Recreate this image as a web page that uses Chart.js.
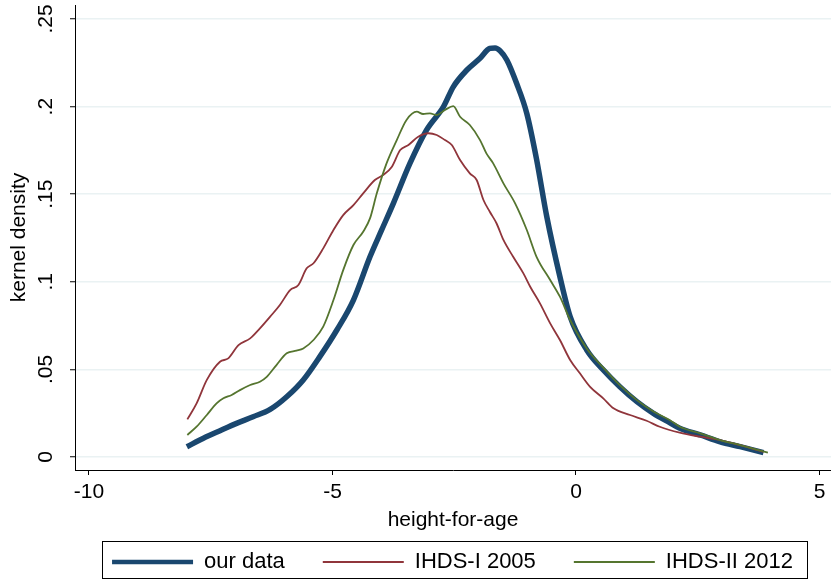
<!DOCTYPE html>
<html>
<head>
    <meta charset="utf-8">
    <title>kernel density</title>
    <script src="https://cdn.jsdelivr.net/npm/chart.js@4.4.6/dist/chart.umd.min.js"></script>
    <style>
        body { margin: 0; background: #fff; }
        #wrap { width: 831px; height: 581px; }
    </style>
</head>
<body>
    <div id="wrap"><canvas id="myChart" width="831" height="581"></canvas></div>
    <script>
        // values
        const ourX = [-7.99, -7.65, -7.31, -6.97, -6.63, -6.28, -5.94, -5.60, -5.26, -4.91, -4.57, -4.23, -3.99, -3.75, -3.41, -3.07, -2.72, -2.52, -2.24, -1.97, -1.77, -1.66, -1.56, -1.42, -1.22, -1.01, -0.81, -0.60, -0.33, -0.12, 0.22, 0.56, 0.90, 1.25, 1.59, 1.93, 2.13, 2.55, 2.96, 3.37, 3.85]
        const ourY = [0.0059, 0.0107, 0.0150, 0.0192, 0.0230, 0.0272, 0.0344, 0.0440, 0.0573, 0.0725, 0.0896, 0.1143, 0.1296, 0.1448, 0.1676, 0.1866, 0.2000, 0.2113, 0.2209, 0.2276, 0.2332, 0.2335, 0.2319, 0.2266, 0.2133, 0.1961, 0.1700, 0.1372, 0.1029, 0.0801, 0.0611, 0.0497, 0.0401, 0.0316, 0.0249, 0.0195, 0.0164, 0.0126, 0.0087, 0.0059, 0.0025]

        const ihds1X = [-7.98, -7.79, -7.58, -7.31, -7.14, -6.93, -6.69, -6.49, -6.28, -6.08, -5.87, -5.70, -5.53, -5.39, -5.19, -4.98, -4.78, -4.57, -4.37, -4.13, -3.96, -3.78, -3.61, -3.44, -3.24, -3.03, -2.86, -2.69, -2.55, -2.38, -2.18, -2.04, -1.90, -1.77, -1.63, -1.49, -1.29, -1.08, -0.94, -0.74, -0.53, -0.33, -0.12, 0.08, 0.29, 0.56, 0.77, 1.11, 1.45, 1.72, 2.13, 2.55, 2.96, 3.37, 3.85]
        const ihds1Y = [0.0215, 0.0306, 0.0440, 0.0544, 0.0563, 0.0639, 0.0677, 0.0734, 0.0801, 0.0868, 0.0953, 0.0982, 0.1077, 0.1106, 0.1191, 0.1296, 0.1381, 0.1438, 0.1505, 0.1581, 0.1610, 0.1657, 0.1752, 0.1781, 0.1828, 0.1848, 0.1838, 0.1809, 0.1781, 0.1695, 0.1619, 0.1581, 0.1467, 0.1400, 0.1333, 0.1239, 0.1143, 0.1048, 0.0972, 0.0877, 0.0763, 0.0668, 0.0554, 0.0478, 0.0401, 0.0335, 0.0278, 0.0240, 0.0207, 0.0173, 0.0139, 0.0116, 0.0097, 0.0068, 0.0030]

        const ihds2X = [-7.98, -7.79, -7.58, -7.38, -7.24, -7.07, -6.90, -6.69, -6.49, -6.35, -6.15, -5.94, -5.74, -5.60, -5.39, -5.19, -4.98, -4.78, -4.57, -4.37, -4.23, -4.09, -3.89, -3.68, -3.48, -3.27, -3.14, -3.00, -2.86, -2.69, -2.52, -2.38, -2.18, -1.97, -1.84, -1.70, -1.49, -1.25, -1.01, -0.81, -0.53, -0.33, -0.12, 0.22, 0.56, 0.90, 1.25, 1.59, 1.93, 2.13, 2.55, 2.96, 3.37, 3.94]
        const ihds2Y = [0.0126, 0.0173, 0.0240, 0.0306, 0.0335, 0.0354, 0.0382, 0.0411, 0.0430, 0.0458, 0.0525, 0.0592, 0.0607, 0.0620, 0.0668, 0.0744, 0.0896, 0.1067, 0.1210, 0.1286, 0.1362, 0.1505, 0.1676, 0.1809, 0.1924, 0.1971, 0.1958, 0.1961, 0.1952, 0.1981, 0.2003, 0.1942, 0.1895, 0.1809, 0.1733, 0.1676, 0.1562, 0.1448, 0.1296, 0.1143, 0.1010, 0.0915, 0.0782, 0.0620, 0.0510, 0.0410, 0.0325, 0.0260, 0.0210, 0.0173, 0.0135, 0.0097, 0.0068, 0.0025]

        const seriesNames = ["our data", "IHDS-I 2005", "IHDS-II 2012"]
        const xTicks = [-10, -5, 0, 5]
        const xTickLabels = ["-10", "-5", "0", "5"]
        const yTicks = [0, 0.05, 0.1, 0.15, 0.2, 0.25]
        const yTickLabels = ["0", ".05", ".1", ".15", ".2", ".25"]

        const toPoints = (xs, ys) => xs.map((x, i) => ({ x: x, y: ys[i] }))

        Chart.defaults.font.family = "'Liberation Sans', Arial, sans-serif"
        Chart.defaults.font.size = 21
        Chart.defaults.color = "#000"

        // Stata style frame round the legend keys
        const legendFrame = {
            id: "legendFrame",
            afterDraw(chart) {
                const boxes = chart.legend.legendHitBoxes
                if (!boxes || !boxes.length) return
                const first = boxes[0]
                const last = boxes[boxes.length - 1]
                const left = Math.round(first.left - 10) + 0.5
                const top = Math.round(first.top - 10) + 0.5
                const right = Math.round(last.left + last.width + 14) + 0.5
                const bottom = Math.round(first.top + first.height + 5) + 0.5
                const ctx = chart.ctx
                ctx.save()
                ctx.strokeStyle = "#000"
                ctx.lineWidth = 1
                ctx.strokeRect(left, top, right - left, bottom - top)
                ctx.restore()
            }
        }

        const element = document.getElementById("myChart")
        const chart = new Chart(element, {
            type: "line",
            data: {
                datasets: [{
                    label: seriesNames[0],
                    data: toPoints(ourX, ourY),
                    borderColor: "#1a476f",
                    borderWidth: 5.5,
                    order: 3,
                }, {
                    label: seriesNames[1],
                    data: toPoints(ihds1X, ihds1Y),
                    borderColor: "#90353b",
                    borderWidth: 1.8,
                    order: 2,
                }, {
                    label: seriesNames[2],
                    data: toPoints(ihds2X, ihds2Y),
                    borderColor: "#55752f",
                    borderWidth: 1.8,
                    order: 1,
                }],
            },
            options: {
                responsive: false,
                animation: false,
                layout: { padding: { top: 5, right: 0, bottom: -2, left: 0 } },
                elements: {
                    point: { radius: 0, hoverRadius: 0 },
                    line: { cubicInterpolationMode: "monotone", fill: false },
                },
                scales: {
                    x: {
                        type: "linear",
                        min: -10.287,
                        max: 5.236,
                        afterBuildTicks: s => { s.ticks = xTicks.map(v => ({ value: v })) },
                        afterFit: s => { s.height = 43; s.paddingLeft = 0; s.paddingRight = 0 },
                        ticks: {
                            autoSkip: false,
                            maxRotation: 0,
                            padding: 5,
                            callback: v => xTickLabels[xTicks.indexOf(v)],
                        },
                        grid: { drawOnChartArea: false, tickColor: "#000", tickLength: 5, tickWidth: 1 },
                        border: { display: true, color: "#000", width: 1 },
                        title: { display: true, text: "height-for-age", padding: { top: 0, bottom: -19.6 } },
                    },
                    y: {
                        type: "linear",
                        min: -0.0074,
                        max: 0.258,
                        afterBuildTicks: s => { s.ticks = yTicks.map(v => ({ value: v })) },
                        afterFit: s => { s.width = 75; s.paddingTop = 0; s.paddingBottom = 0 },
                        ticks: {
                            autoSkip: false,
                            minRotation: 90,
                            maxRotation: 90,
                            crossAlign: "center",
                            padding: 9,
                            callback: v => yTickLabels[yTicks.indexOf(v)],
                        },
                        grid: { color: "#eaf2f3", lineWidth: 1.5, tickColor: "#000", tickLength: 5, tickWidth: 1 },
                        border: { display: true, color: "#000", width: 1 },
                        title: { display: true, text: "kernel density", padding: { top: 7, bottom: 0 } },
                    },
                },
                plugins: {
                    tooltip: { enabled: false },
                    legend: {
                        position: "bottom",
                        align: "end",
                        fullSize: true,
                        labels: {
                            usePointStyle: true,
                            pointStyleWidth: 81,
                            padding: 38,
                            color: "#000",
                            font: { size: 22 },
                            generateLabels: c => c.data.datasets.map((ds, i) => ({
                                text: ds.label,
                                strokeStyle: ds.borderColor,
                                fillStyle: ds.borderColor,
                                lineWidth: i === 0 ? 4.5 : 2,
                                pointStyle: "line",
                                datasetIndex: i,
                                hidden: false,
                            })),
                        },
                    },
                },
            },
            plugins: [legendFrame],
        })
    </script>
</body>
</html>
